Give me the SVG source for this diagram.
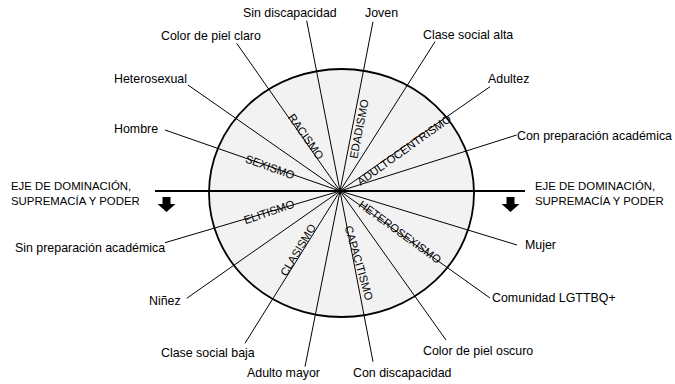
<svg xmlns="http://www.w3.org/2000/svg" width="675" height="384" viewBox="0 0 675 384">
<style>
.lbl{font-family:"Liberation Sans",Arial,sans-serif;font-size:12.4px;fill:#000}
.axis{font-family:"Liberation Sans",Arial,sans-serif;font-size:11.4px;fill:#000}
.ism{font-family:"Liberation Sans",Arial,sans-serif;font-size:11.3px;fill:#000;text-anchor:middle;dominant-baseline:central}
.ray{stroke:#000;stroke-width:1;fill:none}
</style>
<defs>
<path id="arrow" d="M-4,0 H4 V7 H9 L0,15 L-9,7 H-4 Z" fill="#000"/>
</defs>
<rect width="675" height="384" fill="#fff"/>
<g id="wheel">
<ellipse cx="341.5" cy="193" rx="132.5" ry="124" fill="#f2f2f2" stroke="#000" stroke-width="1.8"/>
</g>
<g id="connectors">
<line class="ray" x1="340" y1="191" x2="306.7" y2="20.7"/>
<line class="ray" x1="340" y1="191" x2="373" y2="21.7"/>
<line class="ray" x1="340" y1="191" x2="435" y2="41.7"/>
<line class="ray" x1="340" y1="191" x2="490" y2="86.7"/>
<line class="ray" x1="340" y1="191" x2="516.7" y2="135"/>
<line class="ray" x1="340" y1="191" x2="236.7" y2="43.3"/>
<line class="ray" x1="340" y1="191" x2="188" y2="85"/>
<line class="ray" x1="340" y1="191" x2="165" y2="130"/>
<line class="ray" x1="340" y1="191" x2="165" y2="242.7"/>
<line class="ray" x1="340" y1="191" x2="186.7" y2="298.3"/>
<line class="ray" x1="340" y1="191" x2="245" y2="343.3"/>
<line class="ray" x1="340" y1="191" x2="305" y2="366.7"/>
<line class="ray" x1="340" y1="191" x2="373" y2="361.7"/>
<line class="ray" x1="340" y1="191" x2="446" y2="340"/>
<line class="ray" x1="340" y1="191" x2="490" y2="298"/>
<line class="ray" x1="340" y1="191" x2="517" y2="245"/>
<line x1="155" y1="191" x2="525" y2="191" stroke="#000" stroke-width="1.8"/>
</g>
<g id="isms">
<text class="ism" transform="translate(306 136.5) rotate(55)">RACISMO</text>
<text class="ism" transform="translate(270 167) rotate(20)">SEXISMO</text>
<text class="ism" transform="translate(359 129) rotate(-79)">EDADISMO</text>
<text class="ism" transform="translate(404 150) rotate(-35.5)">ADULTOCENTRISMO</text>
<text class="ism" transform="translate(269 212) rotate(-19)">ELITISMO</text>
<text class="ism" transform="translate(298 250) rotate(-59)">CLASISMO</text>
<text class="ism" transform="translate(359 263) rotate(74)">CAPACITISMO</text>
<text class="ism" transform="translate(400 232) rotate(36)">HETEROSEXISMO</text>
</g>
<g id="labels">
<text class="lbl" x="243" y="17">Sin discapacidad</text>
<text class="lbl" x="365" y="17">Joven</text>
<text class="lbl" x="161" y="40">Color de piel claro</text>
<text class="lbl" x="423" y="39">Clase social alta</text>
<text class="lbl" x="114" y="83">Heterosexual</text>
<text class="lbl" x="488" y="83">Adultez</text>
<text class="lbl" x="114" y="133">Hombre</text>
<text class="lbl" x="517" y="140">Con preparación académica</text>
<text class="lbl" x="15" y="252">Sin preparación académica</text>
<text class="lbl" x="525" y="249">Mujer</text>
<text class="lbl" x="149" y="305">Niñez</text>
<text class="lbl" x="492" y="302">Comunidad LGTTBQ+</text>
<text class="lbl" x="161" y="357">Clase social baja</text>
<text class="lbl" x="423" y="355">Color de piel oscuro</text>
<text class="lbl" x="247" y="377">Adulto mayor</text>
<text class="lbl" x="353" y="377">Con discapacidad</text>
</g>
<g id="axis-left">
<text class="axis" x="11" y="190">EJE DE DOMINACIÓN,</text>
<text class="axis" x="11" y="205">SUPREMACÍA Y PODER</text>
<use href="#arrow" x="166.5" y="197"/>
</g>
<g id="axis-right">
<text class="axis" x="535" y="190">EJE DE DOMINACIÓN,</text>
<text class="axis" x="535" y="205">SUPREMACÍA Y PODER</text>
<use href="#arrow" x="510.5" y="197"/>
</g>
</svg>
